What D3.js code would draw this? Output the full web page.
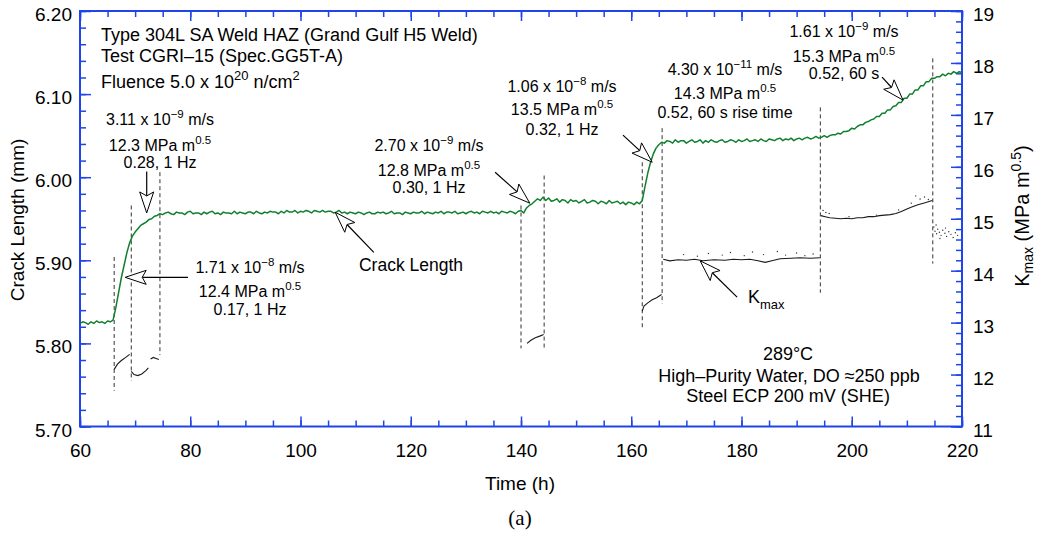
<!DOCTYPE html>
<html>
<head>
<meta charset="utf-8">
<script src="https://cdn.jsdelivr.net/npm/d3@7"></script>
<style>
  body { margin: 0; background: #fff; }
  svg text { font-family: "Liberation Sans", Arial, Helvetica, sans-serif; fill: #000; }
</style>
</head>
<body>
<svg id="chart" width="1038" height="537"></svg>
<script>
// ---- Crack length record (mm), sampled every 0.5 h starting at 60 h ----
const crackStart = 60;
const crackStep = 0.5;
const crackLength = [
  // 60 - 66 h
  5.824, 5.826, 5.825, 5.823, 5.826, 5.824, 5.827, 5.825, 5.826, 5.824, 5.827, 5.826, 5.828,
  // 66.5 - 74.5 h
  5.843, 5.861, 5.879, 5.894, 5.909, 5.921, 5.929, 5.934, 5.938, 5.942, 5.944, 5.946, 5.949, 5.950, 5.953, 5.954, 5.956,
  // 75 - 139.5 h
  5.955, 5.957, 5.958, 5.956, 5.955, 5.958, 5.957, 5.957, 5.955, 5.958,
  5.959, 5.956, 5.957, 5.957, 5.955, 5.958, 5.956, 5.958, 5.959, 5.956,
  5.957, 5.955, 5.958, 5.957, 5.957, 5.956, 5.959, 5.956, 5.958, 5.957,
  5.956, 5.958, 5.958, 5.956, 5.959, 5.957, 5.956, 5.958, 5.957, 5.959,
  5.958, 5.958, 5.956, 5.959, 5.957, 5.960, 5.958, 5.958, 5.960, 5.957,
  5.959, 5.958, 5.960, 5.959, 5.957, 5.960, 5.959, 5.958, 5.960, 5.958,
  5.959, 5.959, 5.957, 5.958, 5.960, 5.957, 5.958, 5.956, 5.958, 5.957,
  5.956, 5.958, 5.957, 5.955, 5.957, 5.958, 5.956, 5.956, 5.958, 5.957,
  5.958, 5.956, 5.957, 5.959, 5.956, 5.957, 5.957, 5.955, 5.958, 5.957,
  5.956, 5.958, 5.957, 5.957, 5.959, 5.956, 5.958, 5.957, 5.956, 5.958,
  5.957, 5.959, 5.956, 5.958, 5.958, 5.957, 5.959, 5.956, 5.957, 5.958,
  5.956, 5.958, 5.959, 5.957, 5.958, 5.956, 5.959, 5.958, 5.957, 5.959,
  5.957, 5.958, 5.956, 5.959, 5.958, 5.957, 5.959, 5.958, 5.956, 5.959,
  // 140 - 144 h
  5.960, 5.957, 5.963, 5.966, 5.968, 5.971, 5.974, 5.972, 5.976,
  // 144.5 - 161.5 h
  5.972, 5.975, 5.971, 5.972, 5.974, 5.970, 5.973, 5.972, 5.969, 5.973,
  5.971, 5.972, 5.969, 5.971, 5.973, 5.969, 5.970, 5.972, 5.971, 5.968,
  5.971, 5.970, 5.968, 5.972, 5.969, 5.970, 5.971, 5.968, 5.970, 5.967,
  5.970, 5.969, 5.967, 5.970, 5.968,
  // 162 - 165.5 h
  5.972, 5.989, 6.005, 6.018, 6.028, 6.035, 6.039, 6.042,
  // 166 - 194 h
  6.041, 6.044, 6.043, 6.041, 6.045, 6.042, 6.044, 6.044, 6.041, 6.043,
  6.045, 6.042, 6.043, 6.045, 6.041, 6.044, 6.042, 6.045, 6.043, 6.042,
  6.044, 6.045, 6.042, 6.043, 6.045, 6.044, 6.042, 6.045, 6.043, 6.044,
  6.046, 6.043, 6.044, 6.045, 6.043, 6.046, 6.044, 6.043, 6.046, 6.045,
  6.044, 6.046, 6.047, 6.044, 6.046, 6.045, 6.047, 6.044, 6.046, 6.047,
  6.045, 6.047, 6.048, 6.046, 6.047, 6.049, 6.047,
  // 194.5 - 220 h
  6.048, 6.050, 6.048, 6.050, 6.051, 6.051, 6.053, 6.052, 6.055, 6.055,
  6.056, 6.059, 6.058, 6.061, 6.063, 6.063, 6.066, 6.067, 6.069, 6.070,
  6.073, 6.073, 6.077, 6.077, 6.081, 6.081, 6.085, 6.086, 6.090, 6.090,
  6.095, 6.095, 6.100, 6.100, 6.105, 6.105, 6.110, 6.110, 6.115, 6.115,
  6.119, 6.119, 6.121, 6.121, 6.124, 6.122, 6.125, 6.124, 6.127, 6.125,
  6.127, 6.126
];

// ---- Kmax record (MPa m^0.5): [time h, Kmax] per loading step ----
const kmaxRuns = [
  [[66.2, 12.10], [66.8, 12.20], [67.5, 12.27], [68.3, 12.33], [69.0, 12.39]],
  [[69.3, 12.06], [69.8, 12.00], [70.5, 11.98], [71.2, 12.01], [72.0, 12.08], [72.4, 12.13]],
  [[72.8, 12.30], [73.3, 12.33], [73.8, 12.31], [74.3, 12.29]],
  [[141.1, 12.60], [141.8, 12.66], [142.6, 12.71], [143.4, 12.74], [144.1, 12.77]],
  [[162.0, 13.22], [162.3, 13.32], [163.0, 13.38], [163.8, 13.44], [164.6, 13.48], [165.5, 13.54]],
  [[165.8, 14.22], [167, 14.19], [168.5, 14.21], [170, 14.20], [171.5, 14.22], [173, 14.19], [175, 14.21],
   [177, 14.20], [178.5, 14.22], [180, 14.21], [181.5, 14.22], [183, 14.19], [184.3, 14.16], [185.5, 14.19],
   [187, 14.23], [189, 14.24], [190.6, 14.25], [192.5, 14.24], [194.2, 14.25]],
  [[194.4, 15.06], [195.2, 15.04], [196, 15.02], [197, 15.01], [198, 15.00], [199, 15.01], [200, 15.00],
   [201, 15.02], [202, 15.02], [203, 15.04], [204, 15.04], [205, 15.06], [206, 15.07], [207, 15.08],
   [208, 15.10], [209, 15.14], [210, 15.19], [211, 15.23], [212, 15.27], [213, 15.30], [214.6, 15.35]]
];
const kmaxScatter = [
  [169.5, 14.31], [172, 14.28], [174, 14.33], [176.5, 14.30], [178, 14.35], [180.5, 14.29], [182, 14.36],
  [184, 14.31], [186.5, 14.37], [188, 14.30], [190, 14.34], [191.5, 14.29], [193, 14.32],
  [194.8, 15.16], [195.3, 15.12], [195.9, 15.10], [199.5, 15.04], [204.5, 15.07], [208.5, 15.17],
  [210.8, 15.30], [211.6, 15.44], [212.4, 15.38], [213.2, 15.42], [213.9, 15.37],
  [214.9, 14.84], [215.1, 14.76], [215.4, 14.71], [215.6, 14.80], [215.9, 14.74], [216.2, 14.68],
  [216.5, 14.78], [216.9, 14.72], [217.2, 14.66], [217.6, 14.75], [218.0, 14.70], [218.4, 14.64],
  [218.8, 14.73], [219.2, 14.68], [215.3, 14.88], [216.0, 14.62], [217.0, 14.82]
];

// ---- Loading-change markers: time (h), extent in crack-length units (mm) ----
const markerTimes  = [66.2, 69.3, 74.5, 140.0, 144.2, 162.0, 165.6, 194.3, 214.7];
const markerTop    = [5.904, 5.966, 6.006, 5.966, 6.002, 6.018, 6.059, 6.084, 6.143];
const markerBottom = [5.743, 5.755, 5.786, 5.794, 5.795, 5.818, 5.848, 5.861, 5.896];

// ---- Axis ticks ----
const timeMajor = [60, 80, 100, 120, 140, 160, 180, 200, 220];
const timeMinor = d3.range(60, 221, 5);
const crackMajor = [5.70, 5.80, 5.90, 6.00, 6.10, 6.20];
const crackMinor = d3.range(0, 26).map(i => 5.70 + i * 0.02);
const kMajor = [11, 12, 13, 14, 15, 16, 17, 18, 19];
const kMinor = d3.range(0, 41).map(i => 11 + i * 0.2);

// ---- Layout ----
const plot = { left: 80, right: 962, top: 11, bottom: 426.5 };
const AXIS = "#1f45e8";
const GREEN = "#10802e";

const svg = d3.select("#chart");
const x = d3.scaleLinear().domain([60, 220]).range([plot.left, plot.right]);
const yL = d3.scaleLinear().domain([5.70, 6.20]).range([plot.bottom, plot.top]);
const yR = d3.scaleLinear().domain([11, 19]).range([plot.bottom, plot.top]);

// axes: minor and major ticks, all pointing inward
function styleAxis(g) {
  g.select(".domain").remove();
  g.selectAll(".tick line").attr("stroke", AXIS).attr("stroke-width", 1.5);
  g.selectAll(".tick text").style("font-size", "19px").attr("fill", "#000")
    .style("font-family", '"Liberation Sans", Arial, sans-serif');
}
const axes = svg.append("g");
axes.append("g").attr("transform", `translate(0,${plot.bottom})`)
  .call(d3.axisBottom(x).tickValues(timeMinor).tickSize(-6).tickFormat("")).call(styleAxis);
axes.append("g").attr("transform", `translate(0,${plot.bottom})`)
  .call(d3.axisBottom(x).tickValues(timeMajor).tickSize(-10).tickPadding(17).tickFormat(d3.format("d"))).call(styleAxis);
axes.append("g").attr("transform", `translate(0,${plot.top})`)
  .call(d3.axisTop(x).tickValues(timeMinor).tickSize(-6).tickFormat("")).call(styleAxis);
axes.append("g").attr("transform", `translate(0,${plot.top})`)
  .call(d3.axisTop(x).tickValues(timeMajor).tickSize(-10).tickFormat("")).call(styleAxis);
axes.append("g").attr("transform", `translate(${plot.left},0)`)
  .call(d3.axisLeft(yL).tickValues(crackMinor).tickSize(-6).tickFormat("")).call(styleAxis);
const leftMajor = axes.append("g").attr("transform", `translate(${plot.left},0)`)
  .call(d3.axisLeft(yL).tickValues(crackMajor).tickSize(-11).tickPadding(8).tickFormat(d3.format(".2f"))).call(styleAxis);
leftMajor.selectAll(".tick text").attr("dy", "0.5em");
axes.append("g").attr("transform", `translate(${plot.right},0)`)
  .call(d3.axisRight(yR).tickValues(kMinor).tickSize(-6).tickFormat("")).call(styleAxis);
const rightMajor = axes.append("g").attr("transform", `translate(${plot.right},0)`)
  .call(d3.axisRight(yR).tickValues(kMajor).tickSize(-11).tickPadding(11).tickFormat(d3.format("d"))).call(styleAxis);
rightMajor.selectAll(".tick text").attr("dy", "0.5em");

// plot frame
svg.append("rect")
  .attr("x", plot.left).attr("y", plot.top)
  .attr("width", plot.right - plot.left).attr("height", plot.bottom - plot.top)
  .attr("fill", "none").attr("stroke", AXIS).attr("stroke-width", 2);

// dashed markers at each change of loading condition
svg.append("g").selectAll("line").data(markerTimes).join("line")
  .attr("x1", d => x(d)).attr("x2", d => x(d))
  .attr("y1", (d, i) => yL(markerTop[i])).attr("y2", (d, i) => yL(markerBottom[i]))
  .attr("stroke", "#333").attr("stroke-width", 1).attr("stroke-dasharray", "4,3");

// Kmax traces
const kLine = d3.line().x(d => x(d[0])).y(d => yR(d[1]));
svg.append("g").selectAll("path").data(kmaxRuns).join("path")
  .attr("d", kLine).attr("fill", "none").attr("stroke", "#1a1a1a").attr("stroke-width", 1.1);
svg.append("g").selectAll("circle").data(kmaxScatter).join("circle")
  .attr("cx", d => x(d[0])).attr("cy", d => yR(d[1])).attr("r", 0.7).attr("fill", "#333");

// crack length trace
const crackData = crackLength.map((a, i) => ({ t: crackStart + i * crackStep, a }));
svg.append("path").datum(crackData)
  .attr("d", d3.line().x(d => x(d.t)).y(d => yL(d.a)))
  .attr("fill", "none").attr("stroke", GREEN).attr("stroke-width", 1.5).attr("stroke-linejoin", "round");

// open-headed annotation arrows
function arrow(tail, tip) {
  const [x1, y1] = tail, [x2, y2] = tip;
  const len = Math.hypot(x2 - x1, y2 - y1);
  const ux = (x2 - x1) / len, uy = (y2 - y1) / len;
  const nx = -uy, ny = ux;
  const L = 21, Wd = 7, notch = 4;
  const bx = x2 - ux * L, by = y2 - uy * L;
  const mx = x2 - ux * (L - notch), my = y2 - uy * (L - notch);
  const g = svg.append("g");
  g.append("line").attr("x1", x1).attr("y1", y1).attr("x2", mx).attr("y2", my)
    .attr("stroke", "#000").attr("stroke-width", 1.2);
  g.append("path")
    .attr("d", `M${x2},${y2}L${bx + nx * Wd},${by + ny * Wd}L${mx},${my}L${bx - nx * Wd},${by - ny * Wd}Z`)
    .attr("fill", "#fff").attr("stroke", "#000").attr("stroke-width", 1);
}
const crackPt = (t, a) => [x(t), yL(a)];
const kPt = (t, k) => [x(t), yR(k)];
arrow(crackPt(72.1, 6.007), crackPt(72.1, 5.957));
arrow(crackPt(79.6, 5.8795), crackPt(68.2, 5.8795));
arrow(crackPt(113.3, 5.9096), crackPt(106.3, 5.9578));
arrow(crackPt(135.3, 6.006), crackPt(141.6, 5.9687));
arrow(crackPt(158.5, 6.0506), crackPt(163.8, 6.018));
arrow(crackPt(205.5, 6.1205), crackPt(209.3, 6.0928));
arrow(kPt(179.2, 13.49), kPt(172.5, 14.19));

// text helper with super/subscript parts
function richText(px, py, parts, size, anchor = "middle") {
  const t = svg.append("text").attr("x", px).attr("y", py)
    .attr("text-anchor", anchor).style("font-size", size + "px");
  let shift = 0;
  parts.forEach(p => {
    const target = p.sup ? -0.42 * size : p.sub ? 0.32 * size : 0;
    const ts = t.append("tspan").text(p.t).attr("dy", target - shift);
    if (p.sup || p.sub) ts.style("font-size", (size * 0.72) + "px");
    shift = target;
  });
  return t;
}

// specimen description
richText(101, 41, [{ t: "Type 304L SA Weld HAZ (Grand Gulf H5 Weld)" }], 18, "start");
richText(101, 62, [{ t: "Test CGRI\u201315 (Spec.GG5T-A)" }], 18, "start");
richText(101, 88, [{ t: "Fluence 5.0 x 10" }, { t: "20", sup: true }, { t: " n/cm" }, { t: "2", sup: true }], 18, "start");

// growth-rate annotations
function rateNote(cx, ys, rate, exp, k, cond) {
  richText(cx, ys[0], [{ t: rate + " x 10" }, { t: "\u2212" + exp, sup: true }, { t: " m/s" }], 16);
  richText(cx, ys[1], [{ t: k + " MPa m" }, { t: "0.5", sup: true }], 16);
  richText(cx, ys[2], [{ t: cond }], 16);
}
rateNote(160, [125, 151, 168], "3.11", "9", "12.3", "0.28, 1 Hz");
rateNote(250, [273, 297, 315], "1.71", "8", "12.4", "0.17, 1 Hz");
rateNote(429, [151, 176, 193], "2.70", "9", "12.8", "0.30, 1 Hz");
rateNote(562, [92, 115, 135], "1.06", "8", "13.5", "0.32, 1 Hz");
rateNote(725, [75, 99, 118], "4.30", "11", "14.3", "0.52, 60 s rise time");
rateNote(844, [37, 62, 79], "1.61", "9", "15.3", "0.52, 60 s");

// trace labels
richText(411, 271, [{ t: "Crack Length" }], 17.5);
richText(748, 303, [{ t: "K" }, { t: "max", sub: true }], 18, "start");

// test environment
richText(788, 360, [{ t: "289\u00B0C" }], 18);
richText(789, 382, [{ t: "High\u2013Purity Water, DO \u2248250 ppb" }], 18);
richText(788, 402, [{ t: "Steel ECP 200 mV (SHE)" }], 18);

// axis titles
richText(520, 490, [{ t: "Time (h)" }], 19);
svg.append("g").attr("transform", "translate(24,220) rotate(-90)")
  .append("text").attr("text-anchor", "middle").style("font-size", "19px").text("Crack Length (mm)");
const rt = svg.append("g").attr("transform", "translate(1029,216) rotate(-90)")
  .append("text").attr("text-anchor", "middle").style("font-size", "20px");
rt.append("tspan").text("K");
rt.append("tspan").text("max").style("font-size", "14px").attr("dy", 4);
rt.append("tspan").text(" (MPa m").attr("dy", -4);
rt.append("tspan").text("0.5").style("font-size", "14px").attr("dy", -8);
rt.append("tspan").text(")").attr("dy", 8);

// panel label
svg.append("text").attr("x", 520).attr("y", 525).attr("text-anchor", "middle")
  .style("font-family", '"Liberation Serif", "Times New Roman", serif').style("font-size", "21px").text("(a)");
</script>
</body>
</html>
